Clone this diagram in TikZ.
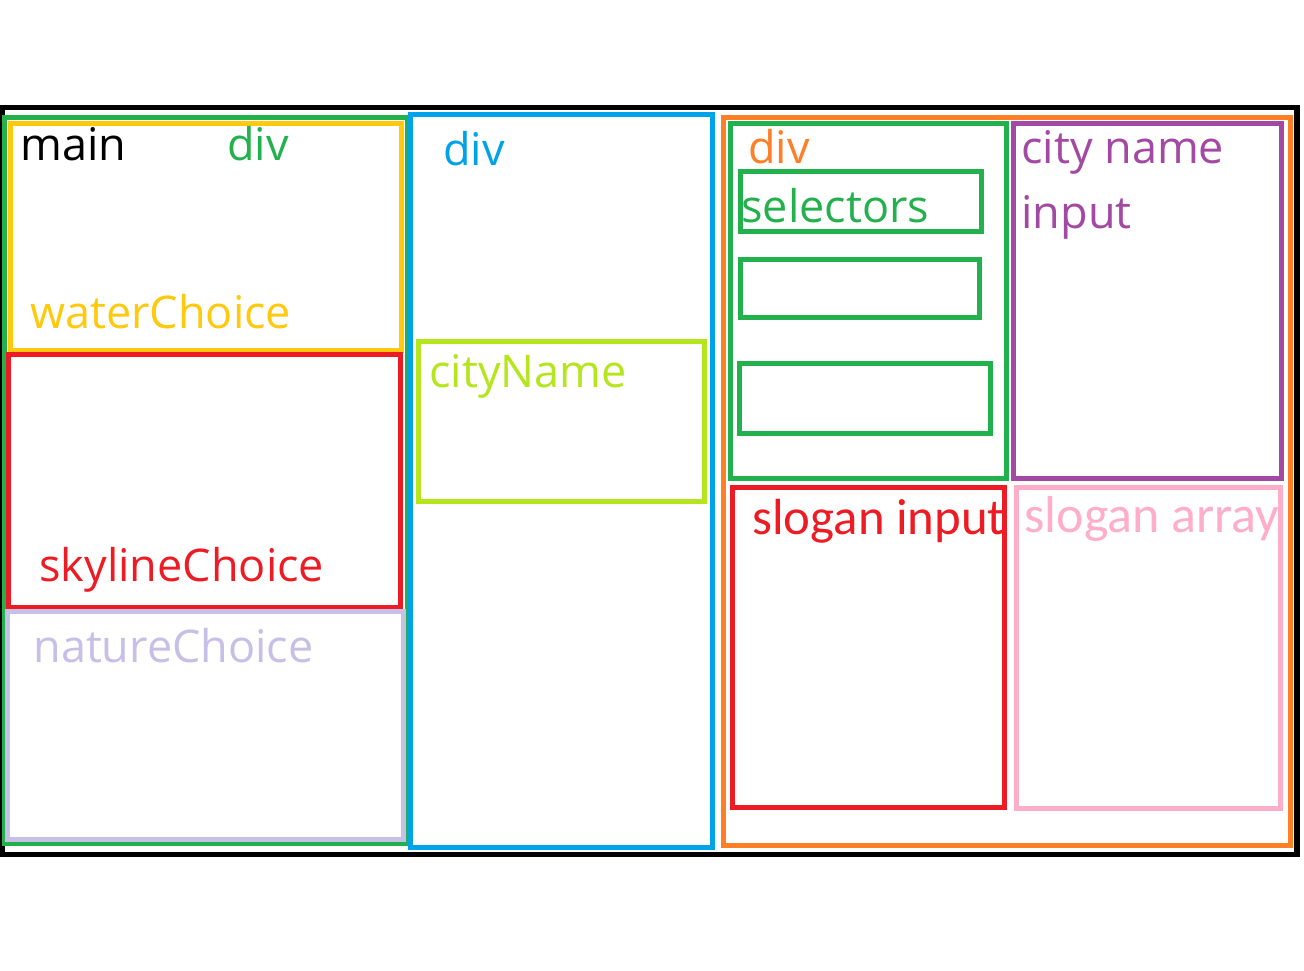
\documentclass[tikz,border=0pt]{standalone}
\usepackage{fontspec}
\setmainfont{Open Sans}
\newfontfamily\calib{Carlito}
\definecolor{pgreen}{HTML}{22B14C}
\definecolor{pyellow}{HTML}{FFC90E}
\definecolor{pred}{HTML}{ED1C24}
\definecolor{plav}{HTML}{C8BFE7}
\definecolor{pblue}{HTML}{00A2E8}
\definecolor{plime}{HTML}{B5E61D}
\definecolor{porange}{HTML}{FF7F27}
\definecolor{ppurple}{HTML}{A349A4}
\definecolor{ppink}{HTML}{FFAEC9}
\tikzset{
  boxline/.style={draw=#1, line width=2.5pt},
  lbl/.style={anchor=base west, inner sep=0pt, text=#1, font=\fontsize{22.5pt}{27pt}\selectfont},
  clbl/.style={anchor=base west, inner sep=0pt, text=#1, font=\calib\fontsize{26pt}{30pt}\selectfont},
}
\begin{document}
\begin{tikzpicture}[x=0.5pt,y=-0.5pt]
\useasboundingbox[fill=white] (0,0) rectangle (1304,970);
% outer frame
\draw[draw=black, line width=2.8pt] (2.5,107.5) rectangle (1297,854.5);
% left column
\draw[boxline=pgreen] (4.5,117) rectangle (407,843);
\draw[boxline=pyellow] (10,123.5) rectangle (401.5,350.5);
\draw[boxline=pred] (8.5,354.7) rectangle (400.5,607.5);
\draw[boxline=plav] (7.5,611) rectangle (403.5,839.5);
% middle column
\draw[boxline=pblue] (410.5,114.7) rectangle (712.5,847.5);
\draw[boxline=plime] (418.5,341.5) rectangle (704,501.5);
% right column
\draw[boxline=porange] (723.5,117) rectangle (1290,845);
\draw[boxline=pgreen] (730.5,123) rectangle (1006,478);
\draw[boxline=pgreen] (740.5,171.3) rectangle (981.5,231.3);
\draw[boxline=pgreen] (740.5,259.5) rectangle (979.5,317);
\draw[boxline=pgreen] (739.5,363) rectangle (990.5,433);
\draw[boxline=ppurple] (1013.5,123.3) rectangle (1281,478);
\draw[boxline=pred] (732.5,487.5) rectangle (1004.5,807.5);
\draw[boxline=ppink] (1016.5,487.5) rectangle (1280,808.5);
% labels
\node[lbl=black] (tmain) at (20,160) {main};
\node[lbl=pgreen] (tdiv1) at (227,160) {div};
\node[lbl=pyellow] (twater) at (30,328) {waterChoice};
\node[lbl=pred] (tsky) at (39,581) {skylineChoice};
\node[lbl=plav] (tnature) at (33,662) {natureChoice};
\node[lbl=pblue] (tdiv2) at (443,165) {div};
\node[lbl=plime] (tcity) at (429,387) {cityName};
\node[lbl=porange] (tdiv3) at (748,163) {div};
\node[lbl=pgreen] (tsel) at (741,222) {selectors};
\node[lbl=ppurple] (tcn) at (1021,163) {city name};
\node[lbl=ppurple] (tinp) at (1021,228) {input};
\node[clbl=pred, font=\calib\fontsize{25.4pt}{30pt}\selectfont] (tslin) at (752,534) {slogan input};
\node[clbl=ppink] (tslar) at (1024,532) {slogan array};
\end{tikzpicture}
\end{document}
